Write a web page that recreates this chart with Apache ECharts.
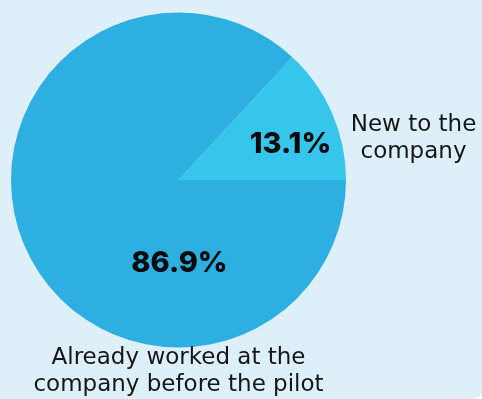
<!DOCTYPE html>
<html>
<head>
<meta charset="utf-8">
<script src="https://cdn.jsdelivr.net/npm/echarts@6/dist/echarts.min.js"></script>
<style>
  html, body { margin: 0; padding: 0; background: #ffffff; }
  #chart { width: 482px; height: 399px; background: #ddf0fa; border-bottom-right-radius: 9px; overflow: hidden; }
</style>
</head>
<body>
<div id="chart"></div>
<script>
// Share of pilot participants by prior relationship with the company
const categories = ['New to the\ncompany', 'Already worked at the\ncompany before the pilot'];
const shares = [13.1, 86.9];
const sliceColors = ['#36c6ec', '#2eafe2'];

const FONT = '"DejaVu Sans", sans-serif';
const FIGURE_FONT = 'Inter, "DejaVu Sans", sans-serif';

// label anchor offsets from the pie centre, in pixels
const percentOffsets = [[112, -36], [1, 83]];
const nameOffsets = [[235, -41], [0, 192]];

const chart = echarts.init(document.getElementById('chart'), null, { renderer: 'canvas' });

const center = [178.5, 180];
const radius = 167.5;

const data = categories.map((name, i) => ({
  name: name,
  value: shares[i],
  itemStyle: { color: sliceColors[i] }
}));

function placeAt(offsets) {
  return function (params) {
    const o = offsets[params.dataIndex];
    return { x: center[0] + o[0], y: center[1] + o[1], align: 'center', verticalAlign: 'middle' };
  };
}

chart.setOption({
  animation: false,
  series: [
    {
      type: 'pie',
      center: center,
      radius: radius,
      startAngle: shares[0] / 100 * 360,
      clockwise: true,
      silent: true,
      itemStyle: { borderWidth: 0 },
      label: {
        show: true,
        position: 'inside',
        formatter: p => p.value.toFixed(1) + '%',
        fontFamily: FIGURE_FONT,
        fontWeight: 800,
        fontSize: 29,
        color: '#0a0a0a'
      },
      labelLine: { show: false },
      labelLayout: placeAt(percentOffsets),
      data: data
    },
    {
      type: 'pie',
      center: center,
      radius: radius,
      startAngle: shares[0] / 100 * 360,
      clockwise: true,
      silent: true,
      itemStyle: { color: 'rgba(0,0,0,0)', borderWidth: 0 },
      label: {
        show: true,
        position: 'inside',
        formatter: '{b}',
        fontFamily: FONT,
        fontSize: 23,
        lineHeight: 27,
        color: '#161616'
      },
      labelLine: { show: false },
      labelLayout: placeAt(nameOffsets),
      data: categories.map((name, i) => ({ name: name, value: shares[i] }))
    }
  ]
});
</script>
</body>
</html>
